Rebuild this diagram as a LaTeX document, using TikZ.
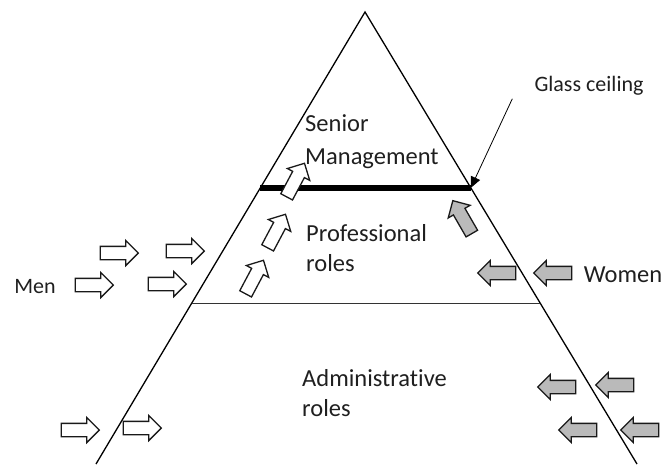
\documentclass[tikz,border=0pt]{standalone}
\usepackage{fontspec}
\setmainfont{Carlito}[Ligatures=NoCommon]
\usetikzlibrary{shapes.arrows,calc,arrows.meta}

\begin{document}
\begin{tikzpicture}[x=1pt, y=-1pt,
            blockarrow/.style={single arrow, draw=black!90, line width=1.3pt,
                inner xsep=0pt, inner ysep=6pt, minimum height=38pt,
                single arrow head extend=6pt},
            menarrow/.style={blockarrow, fill=white},
            womenarrow/.style={blockarrow, fill=black!27, shape border rotate=180},
            label/.style={font=\fontsize{24.5}{30}\selectfont, text=black!88, inner sep=0pt},
            smalllabel/.style={label, font=\fontsize{22}{26}\selectfont},
            block/.style={label, align=left, anchor=north west},
            >={Triangle[length=11pt, width=10pt]}]
    \useasboundingbox (0,0) rectangle (661,464);
    % pyramid
    \coordinate (apex) at (365,12);
    \coordinate (bl) at (96,464);
    \coordinate (br) at (637,464);
    \draw[line width=1.3pt] (bl) -- (apex) -- (br);
    \coordinate (ceilL) at ($(apex)!0.389!(bl)$);
    \coordinate (ceilR) at ($(apex)!0.389!(br)$);
    \draw[line width=0.8pt, black!80] ($(apex)!0.644!(bl)$) -- ($(apex)!0.644!(br)$);
    \draw[line width=6pt] (ceilL) -- (ceilR);
    % texts
    \node[block] (senior) at (305,114) {Senior\\[3pt]Management};
    \node[block] (prof) at (306,224) {Professional\\roles};
    \node[block] (admin) at (302,369) {Administrative\\roles};
    \node[smalllabel] (men) at (35,287) {Men};
    \node[label] (women) at (623,275) {Women};
    \node[smalllabel] (glass) at (589,86) {Glass ceiling};
    \draw[->, line width=0.8pt] (glass.south west) ++(-22,3) coordinate (gtail) -- (ceilR);
    % men
    \node[menarrow] (m1) at (116,253) {};
    \node[menarrow] (m2) at (182,251) {};
    \node[menarrow] (m3) at (91,285) {};
    \node[menarrow] (m4) at (164,284) {};
    \node[menarrow] (m5) at (77,430) {};
    \node[menarrow] (m6) at (139,428) {};
    \node[menarrow, rotate=62] (u1) at (253,280) {};
    \node[menarrow, rotate=62] (u2) at (275,234) {};
    \node[menarrow, rotate=62] (u3) at (294,183) {};
    % women
    \node[womenarrow] (w1) at (500,273) {};
    \node[womenarrow] (w2) at (556,273) {};
    \node[womenarrow] (w3) at (560,387) {};
    \node[womenarrow] (w4) at (618,385) {};
    \node[womenarrow] (w5) at (581,430) {};
    \node[womenarrow] (w6) at (643,430) {};
    \node[womenarrow, rotate=-60] (g1) at (464,220) {};
\end{tikzpicture}
\end{document}
